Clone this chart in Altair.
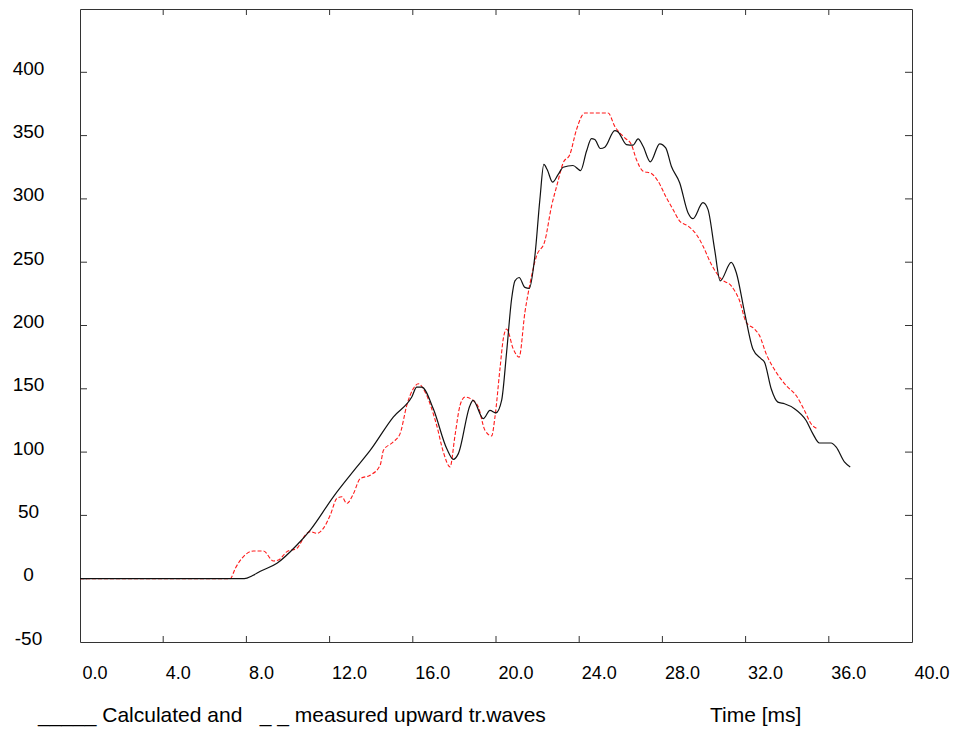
import altair as alt
import pandas as pd

# Calculated upward travelling wave (solid black)
t_calc = [0, 1, 2, 3, 4, 5, 6, 7, 7.9, 8.3,
          8.67, 9.47, 10.43, 11.07, 12.18, 13.31, 13.95, 15.06, 15.95, 16.19,
          16.43, 16.99, 17.63, 17.95, 18.19, 18.75, 18.9, 19.39, 19.71, 20.0,
          20.27, 20.51, 20.75, 20.91, 21.11, 21.39, 21.6, 21.87, 22.11, 22.3,
          22.46, 22.72, 22.99, 23.23, 23.7, 24.07, 24.35, 24.59, 24.75, 25.02,
          25.23, 25.71, 25.87, 26.27, 26.59, 26.83, 27.07, 27.42, 27.87, 28.16,
          28.43, 28.83, 29.23, 29.47, 29.95, 30.19, 30.51, 30.78, 31.31, 31.55,
          31.95, 32.35, 32.75, 32.91, 33.23, 33.55, 33.87, 34.35, 34.91, 35.23,
          35.55, 36.11, 36.35, 36.75, 37.03]
v_calc = [0, 0, 0, 0, 0, 0, 0, 0, 0, 2.5,
          5.9, 12.2, 26.6, 38.4, 64.7, 88.3, 101.4, 127.7, 143.5, 151.3,
          151.3, 134, 102.8, 94.3, 98.8, 136.9, 140.8, 126.4, 132.9, 131,
          140.8, 178.9, 220.9, 235.3, 237.9, 230.1, 229.3, 255, 299.6, 327.2,
          323.2, 313.2, 319.3, 325, 326.4, 322.4, 337.6, 347.6, 346.9, 339.8,
          340.8, 353.9, 352.9, 342.9, 342.4, 347.4, 341.6, 329.3, 343.5, 340.3,
          325.8, 312.8, 289.1, 284.4, 297, 291.7, 260.2, 235.3, 249.8, 241.9,
          210.4, 181.5, 173.6, 171, 150, 139.5, 138.2, 134.3, 125, 114.6,
          107.2, 107.2, 104.1, 92.3, 88.3]

# Measured upward travelling wave (dashed red)
t_meas = [0, 1, 2, 3, 4, 5, 6, 7, 7.22, 7.47,
          7.86, 8.34, 8.82, 9.3, 9.54, 9.95, 10.43, 10.83, 11.07, 11.39,
          11.7, 12.03, 12.35, 12.59, 12.83, 13.15, 13.47, 13.95, 14.43, 14.59,
          15.06, 15.39, 15.71, 16.02, 16.27, 16.59, 17.15, 17.47, 17.79, 18.03,
          18.27, 18.51, 18.9, 19.15, 19.47, 19.79, 19.95, 20.19, 20.35, 20.51,
          20.83, 21.11, 21.39, 21.63, 21.95, 22.35, 22.67, 22.94, 23.23, 23.55,
          23.87, 24.27, 25.39, 25.71, 26.19, 26.51, 26.75, 27.07, 27.47, 27.79,
          28.19, 28.51, 28.83, 29.23, 29.63, 29.95, 30.35, 30.83, 31.31, 31.71,
          32.03, 32.43, 32.67, 32.99, 33.47, 33.95, 34.43, 34.83, 35.15, 35.44]
v_meas = [0, 0, 0, 0, 0, 0, 0, 0, 0, 8.3,
          17.5, 21.9, 21.9, 14, 14.8, 21.4, 24, 34.5, 37.2, 35.8,
          39.8, 50.2, 63.4, 64.7, 59.4, 67.3, 79.1, 81.7, 89.6, 101.4,
          108, 114.6, 136.9, 150, 154, 147.4, 121, 100, 88.3, 113.2,
          136.9, 143.5, 140.8, 135.6, 117.2, 112.8, 127.7, 165.7, 189.4, 197.2,
          181.5, 175, 210.4, 232.7, 255, 266.8, 294.3, 311.4, 328.5, 335,
          354.7, 367.9, 367.9, 357.3, 348.2, 342.9, 331.1, 321.9, 320.1, 314,
          301, 291.7, 282.5, 278.6, 272, 262.8, 248.4, 236.6, 231.3, 219.5,
          202.5, 197.2, 192, 177.6, 163.1, 152.6, 144.7, 132.9, 122.4, 118.5]

x_labels = [0, 4, 8, 12, 16, 20, 24, 28, 32, 36, 40]
y_labels = [-50, 0, 50, 100, 150, 200, 250, 300, 350, 400]
x_inner_ticks = [4, 8, 12, 16, 20, 24, 28, 32, 36]
y_inner_ticks = [0, 50, 100, 150, 200, 250, 300, 350, 400]

# non-breaking spaces keep the wide gap after "and"
legend_text = "_____ Calculated and\u00a0\u00a0 _ _ measured upward tr.waves"
time_title = "Time [ms]"

W, H = 832, 633
FONT = "Liberation Sans"

calc = pd.DataFrame({"t": t_calc, "v": v_calc})
meas = pd.DataFrame({"t": t_meas, "v": v_meas})

x_scale = alt.Scale(domain=[0, 40], nice=False, zero=False)
y_scale = alt.Scale(domain=[-50, 450], nice=False, zero=False)

x_axis = alt.Axis(values=x_labels, format=".1f", labelAlign="left", labelOffset=2,
                  labelPadding=22, ticks=False, tickSize=0, domain=False, grid=False,
                  labelFlush=False, labelOverlap=False, labelFontSize=18,
                  labelFont=FONT, labelColor="#000", title=None)
y_axis = alt.Axis(values=y_labels, labelAlign="center", labelBaseline="middle",
                  labelPadding=52, labelOffset=-4, ticks=False, tickSize=0,
                  domain=False, grid=False, labelFlush=False, labelOverlap=False,
                  labelFontSize=19, labelFont=FONT, labelColor="#000", title=None,
                  labelExpr="datum.value < 0 ? '-' + abs(datum.value) : datum.label")

calc_line = alt.Chart(calc).mark_line(color="#111111", strokeWidth=1.2,
                                      interpolate="monotone").encode(
    x=alt.X("t:Q", scale=x_scale, axis=x_axis),
    y=alt.Y("v:Q", scale=y_scale, axis=y_axis),
)
meas_line = alt.Chart(meas).mark_line(color="#ff1a1a", strokeWidth=1.1,
                                      strokeDash=[4, 2],
                                      interpolate="monotone").encode(
    x=alt.X("t:Q", scale=x_scale),
    y=alt.Y("v:Q", scale=y_scale),
)

# Inward-pointing ticks on all four sides of the frame
xt = pd.DataFrame({"t": x_inner_ticks})
yt = pd.DataFrame({"v": y_inner_ticks})
tick_color = "#333333"
ticks_bottom = alt.Chart(xt).mark_rule(color=tick_color).encode(
    x=alt.X("t:Q", scale=x_scale), y=alt.value(H - 6), y2=alt.value(H))
ticks_top = alt.Chart(xt).mark_rule(color=tick_color).encode(
    x=alt.X("t:Q", scale=x_scale), y=alt.value(0), y2=alt.value(6))
ticks_left = alt.Chart(yt).mark_rule(color=tick_color).encode(
    y=alt.Y("v:Q", scale=y_scale), x=alt.value(0), x2=alt.value(7))
ticks_right = alt.Chart(yt).mark_rule(color=tick_color).encode(
    y=alt.Y("v:Q", scale=y_scale), x=alt.value(W - 7), x2=alt.value(W))

caption = alt.Chart(pd.DataFrame({"s": [legend_text]})).mark_text(
    align="left", baseline="middle", fontSize=21, font=FONT, color="#000"
).encode(x=alt.value(-42), y=alt.value(74 + H), text="s:N")
time_label = alt.Chart(pd.DataFrame({"s": [time_title]})).mark_text(
    align="left", baseline="middle", fontSize=21, font=FONT, color="#000"
).encode(x=alt.value(630), y=alt.value(74 + H), text="s:N")

chart = alt.layer(
    ticks_bottom, ticks_top, ticks_left, ticks_right,
    meas_line, calc_line, caption, time_label,
).properties(
    width=W, height=H,
    autosize=alt.AutoSizeParams(type="none"),
    padding={"left": 80, "top": 9, "right": 46, "bottom": 88},
    background="white",
).configure_view(stroke="#333333", strokeWidth=1)

chart.save("out.html", embed_options={"renderer": "svg", "actions": False})
